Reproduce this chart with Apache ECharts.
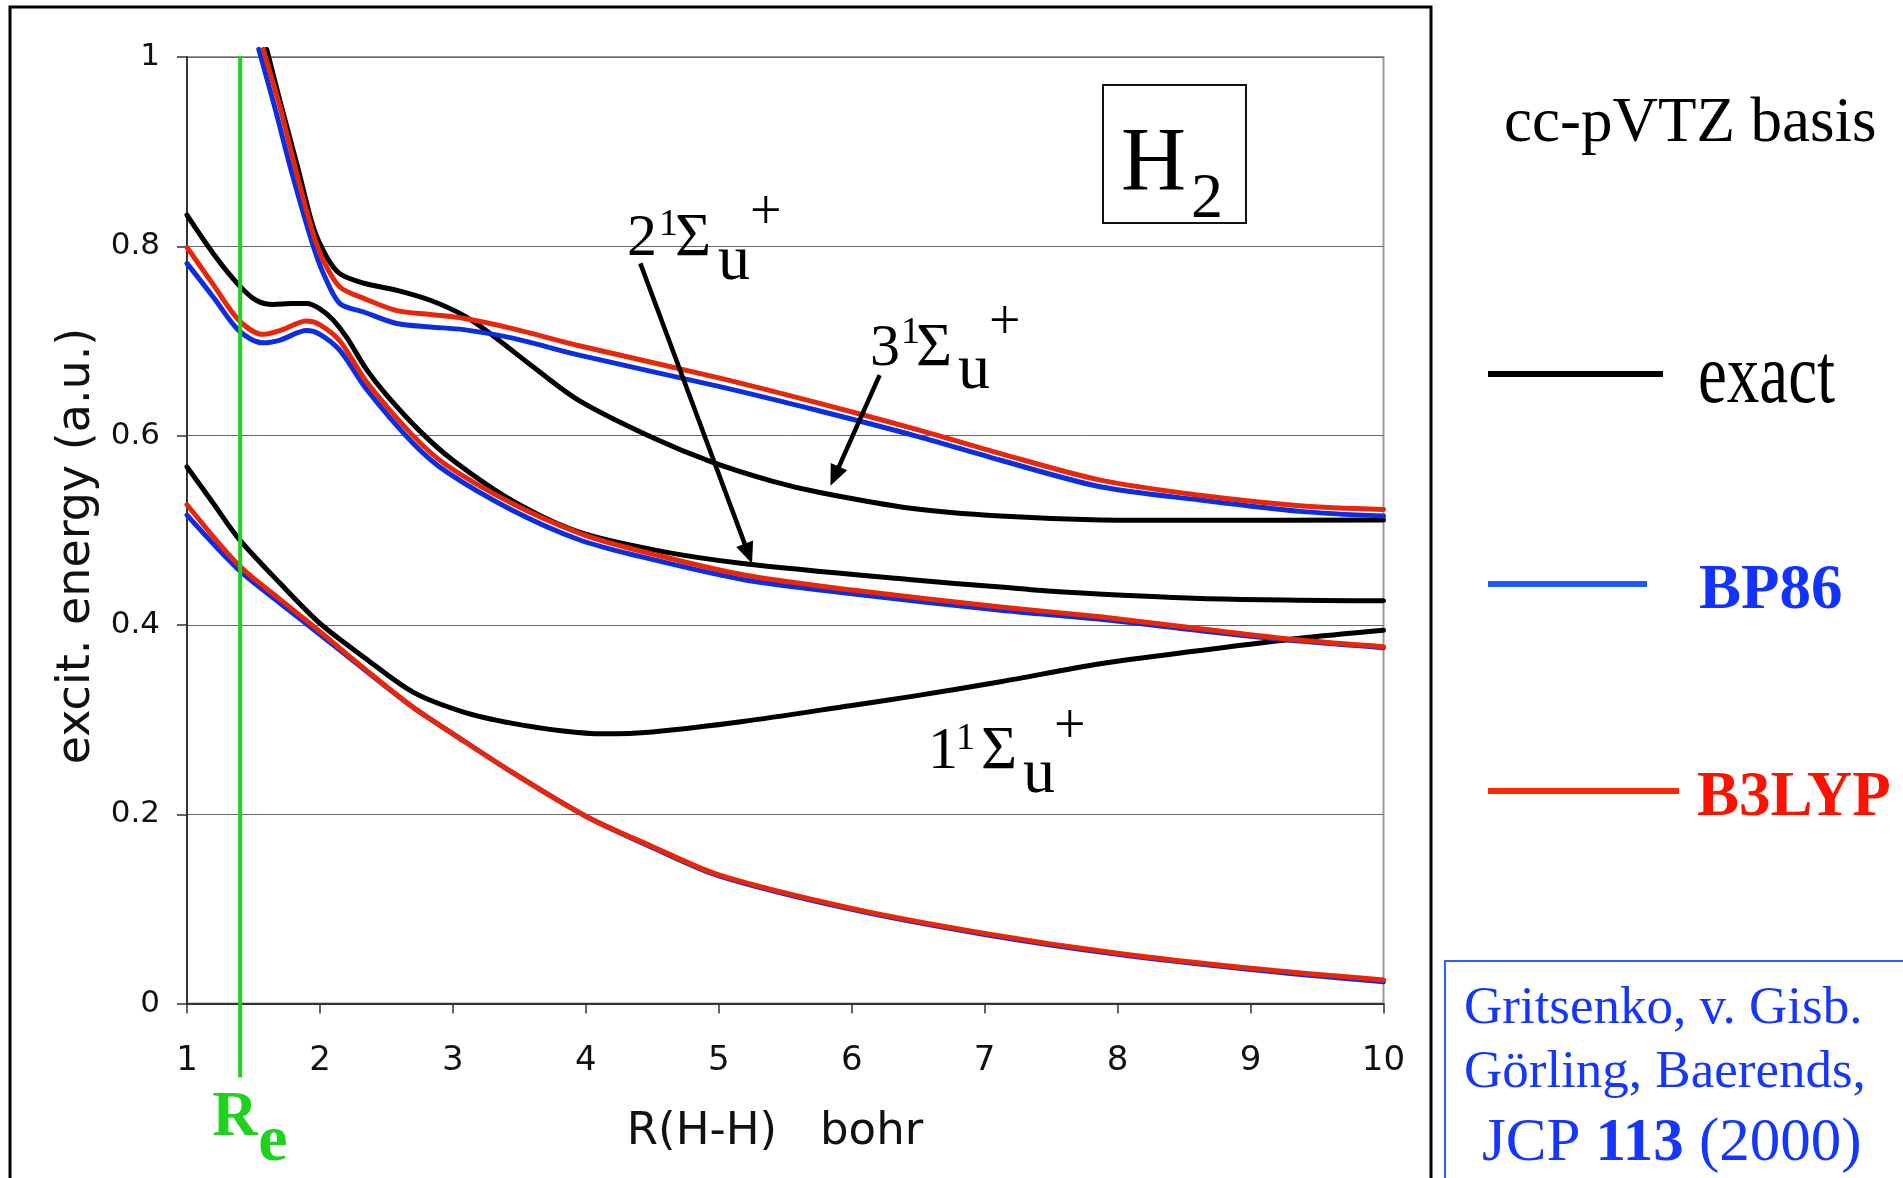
<!DOCTYPE html>
<html>
<head>
<meta charset="utf-8">
<title>H2 excitation energies</title>
<script src="https://cdn.jsdelivr.net/npm/echarts@6/dist/echarts.min.js"></script>
<style>
  html, body { margin: 0; padding: 0; background: #fff; }
  #chart { width: 1903px; height: 1178px; }
</style>
</head>
<body>
<div id="chart"></div>
<script>
// Axis tick labels
const xTickLabels = ['1', '2', '3', '4', '5', '6', '7', '8', '9', '10'];
const yTickLabels = ['0', '0.2', '0.4', '0.6', '0.8', '1'];

// Excitation energies (a.u.) vs R(H-H) (bohr), [R, E] pairs
// 1 1Σu+
const exact1 = [[1, 0.567], [1.2, 0.528], [1.39, 0.491], [1.7, 0.444], [2.0, 0.4016], [2.33, 0.366], [2.7, 0.329], [3.08, 0.308], [3.45, 0.296], [3.83, 0.288], [4.13, 0.285], [4.5, 0.287], [5.18, 0.298], [6.0, 0.315], [6.43, 0.324], [7.12, 0.340], [7.87, 0.359], [8.62, 0.373], [9.37, 0.386], [10, 0.3945]];
const bp86_1 = [[1, 0.516], [1.39, 0.458], [1.7, 0.423], [2.0, 0.390], [2.35, 0.351], [2.7, 0.313], [3.0, 0.285], [3.45, 0.244], [4.0, 0.198], [4.5, 0.165], [5, 0.135], [6, 0.0995], [7, 0.073], [8, 0.052], [9, 0.036], [10, 0.023]];
const b3lyp_1 = [[1, 0.527], [1.39, 0.463], [1.7, 0.427], [2.0, 0.393], [2.35, 0.352], [2.7, 0.313], [3.0, 0.285], [3.45, 0.244], [4.0, 0.198], [4.5, 0.166], [5, 0.136], [6, 0.1006], [7, 0.0742], [8, 0.0531], [9, 0.0373], [10, 0.0249]];
// 2 1Σu+
const exact2 = [[1, 0.833], [1.2, 0.792], [1.39, 0.759], [1.52, 0.743], [1.65, 0.7385], [1.78, 0.7395], [1.9, 0.7395], [2.0, 0.734], [2.1, 0.722], [2.2, 0.704], [2.35, 0.670], [2.5, 0.643], [2.75, 0.605], [3.0, 0.574], [3.45, 0.531], [3.95, 0.498], [4.56, 0.478], [5.18, 0.465], [6.43, 0.448], [7.12, 0.440], [7.56, 0.435], [8.62, 0.428], [10, 0.4255]];
const bp86_2 = [[1, 0.782], [1.2, 0.746], [1.39, 0.711], [1.57, 0.698], [1.7, 0.701], [1.9, 0.711], [2.0, 0.707], [2.15, 0.690], [2.35, 0.649], [2.7, 0.592], [2.95, 0.562], [3.45, 0.521], [3.95, 0.490], [4.33, 0.475], [5.18, 0.448], [6, 0.433], [7.12, 0.4156], [7.87, 0.406], [8.62, 0.394], [9.37, 0.383], [10, 0.376]];
const b3lyp_2 = [[1, 0.799], [1.2, 0.759], [1.39, 0.722], [1.57, 0.707], [1.7, 0.711], [1.9, 0.721], [2.0, 0.717], [2.15, 0.700], [2.35, 0.657], [2.7, 0.600], [2.95, 0.569], [3.45, 0.528], [3.95, 0.497], [4.33, 0.481], [5.18, 0.453], [6, 0.437], [7.12, 0.419], [7.87, 0.4086], [8.62, 0.396], [9.37, 0.384], [10, 0.377]];
// 3 1Σu+
const exact3 = [[1.6, 1.008], [1.7, 0.953], [1.83, 0.885], [1.95, 0.82], [2.05, 0.789], [2.15, 0.771], [2.33, 0.761], [2.58, 0.7535], [2.83, 0.743], [3.08, 0.727], [3.28, 0.708], [3.6, 0.673], [3.95, 0.637], [4.5, 0.598], [4.95, 0.572], [5.4, 0.552], [5.76, 0.540], [6.46, 0.523], [7.12, 0.515], [7.87, 0.511], [8.62, 0.5105], [10, 0.511]];
const bp86_3 = [[1.54, 1.008], [1.66, 0.947], [1.79, 0.877], [1.95, 0.800], [2.03, 0.770], [2.15, 0.7395], [2.33, 0.7306], [2.58, 0.7184], [2.83, 0.7148], [3.08, 0.712], [3.45, 0.703], [3.95, 0.685], [5, 0.652], [5.76, 0.626], [6.5, 0.599], [7.12, 0.574], [7.87, 0.546], [8.62, 0.532], [9.37, 0.520], [10, 0.515]];
const b3lyp_3 = [[1.574, 1.008], [1.70, 0.947], [1.825, 0.877], [1.95, 0.813], [2.026, 0.785], [2.15, 0.757], [2.33, 0.745], [2.58, 0.732], [2.83, 0.728], [3.08, 0.724], [3.45, 0.713], [3.95, 0.695], [5, 0.661], [5.76, 0.634], [6.5, 0.606], [7.12, 0.581], [7.87, 0.553], [8.62, 0.537], [9.37, 0.526], [10, 0.522]];

// Equilibrium bond length (bohr)
const reBohr = 1.4;

// State-label arrows: [tail, tip] in (R, E)
const arrow2 = [[4.41, 0.782], [5.25, 0.465]];
const arrow3 = [[6.21, 0.664], [5.84, 0.547]];

// State-label anchors (R, E): left edge / baseline of the leading digit
const label1Anchor = [6.574, 0.2489];
const label2Anchor = [4.310, 0.7908];
const label3Anchor = [6.138, 0.6745];

const COL_EXACT = '#000000';
const COL_BP = '#0b2fe0';
const COL_B3 = '#e8260a';
const SERIF = '"Liberation Serif", "Times New Roman", serif';
const SANS = '"DejaVu Sans", Verdana, sans-serif';

const chart = echarts.init(document.getElementById('chart'), null, { renderer: 'canvas' });

const curves = [
  { name: 'exact 1', data: exact1, color: COL_EXACT },
  { name: 'exact 2', data: exact2, color: COL_EXACT },
  { name: 'exact 3', data: exact3, color: COL_EXACT },
  { name: 'BP86 1', data: bp86_1, color: COL_BP },
  { name: 'BP86 2', data: bp86_2, color: COL_BP },
  { name: 'BP86 3', data: bp86_3, color: COL_BP },
  { name: 'B3LYP 1', data: b3lyp_1, color: COL_B3 },
  { name: 'B3LYP 2', data: b3lyp_2, color: COL_B3 },
  { name: 'B3LYP 3', data: b3lyp_3, color: COL_B3 }
];

const PLOT = { left: 187, top: 57, right: 1383.5, bottom: 1003.6 };

chart.setOption({
  animation: false,
  backgroundColor: '#ffffff',
  legend: { show: false },
  tooltip: { show: false },
  grid: {
    left: PLOT.left, top: PLOT.top,
    width: PLOT.right - PLOT.left, height: PLOT.bottom - PLOT.top,
    show: true, borderColor: '#9a9a9a', borderWidth: 2,
    outerBoundsMode: 'none', containLabel: false
  },
  xAxis: {
    type: 'value', min: 1, max: 10, interval: 1,
    axisLine: { show: true, onZero: false, lineStyle: { color: '#333', width: 2 } },
    axisTick: { show: true, length: 10, inside: false, lineStyle: { color: '#333', width: 1.5 } },
    splitLine: { show: false },
    axisLabel: {
      show: true, margin: 41, color: '#111', fontSize: 34, fontFamily: SANS,
      showMinLabel: true, showMaxLabel: true, hideOverlap: false,
      formatter: v => xTickLabels[Math.round(v) - 1]
    }
  },
  yAxis: {
    type: 'value', min: 0, max: 1, interval: 0.2,
    axisLine: { show: true, onZero: false, lineStyle: { color: '#333', width: 2 } },
    axisTick: { show: true, length: 10, inside: false, lineStyle: { color: '#333', width: 1.5 } },
    splitLine: { show: true, lineStyle: { color: '#666', width: 1 } },
    axisLabel: {
      show: true, margin: 27, color: '#111', fontSize: 31, fontFamily: SANS,
      showMinLabel: true, showMaxLabel: true, hideOverlap: false,
      formatter: v => yTickLabels[Math.round(v / 0.2)]
    }
  },
  series: curves.map((c, i) => ({
    name: c.name,
    type: 'line',
    data: c.data,
    smooth: 0.3,
    symbol: 'none',
    showSymbol: false,
    clip: false,
    silent: true,
    z: 2 + i,
    lineStyle: { color: c.color, width: 5, cap: 'round', join: 'round' }
  }))
});

// ---- annotation helpers -------------------------------------------------
function px(p) { return chart.convertToPixel({ gridIndex: 0 }, p); }

// text placed by its baseline (x = left edge unless align given)
function txt(x, base, str, size, o) {
  o = o || {};
  const fam = o.family || SERIF;
  const k = fam === SANS ? 0.30 : 0.26;
  const style = {
    text: str, x: 0, y: -k * size,
    fill: o.color || '#000',
    fontSize: size, fontFamily: fam, fontWeight: o.weight || 'normal',
    align: o.align || 'left', verticalAlign: 'middle'
  };
  if (o.rich) style.rich = o.rich;
  return {
    type: 'text', x: x, y: base,
    rotation: o.rotation || 0, scaleX: o.sx || 1, scaleY: o.sy || 1,
    z: 100, silent: true, style: style
  };
}

function arrow(tailData, tipData) {
  const a = px(tailData), b = px(tipData);
  const dx = b[0] - a[0], dy = b[1] - a[1];
  const len = Math.hypot(dx, dy), ux = dx / len, uy = dy / len;
  const headLen = 21, headW = 9;
  const bx = b[0] - ux * headLen, by = b[1] - uy * headLen;
  return [
    { type: 'line', z: 90, silent: true,
      shape: { x1: a[0], y1: a[1], x2: bx + ux * 2, y2: by + uy * 2 },
      style: { stroke: '#000', lineWidth: 4.5 } },
    { type: 'polygon', z: 90, silent: true,
      shape: { points: [[b[0], b[1]], [bx - uy * headW, by + ux * headW], [bx + uy * headW, by - ux * headW]] },
      style: { fill: '#000' } }
  ];
}

// n¹Σu⁺ label built from pieces: [text, size, dx, dyBaseline]
function stateLabel(anchor, digit, pieces) {
  const p = px(anchor);
  const out = [txt(p[0], p[1], digit, 60)];
  pieces.forEach(q => out.push(txt(p[0] + q[2], p[1] + q[3], q[0], q[1])));
  return out;
}

const reTop = px([reBohr, 1]);
const axisY = px([1, 0])[1];

const graphics = [
  // outer frame
  { type: 'rect', z: 1, silent: true, shape: { x: 10, y: 7, width: 1421, height: 1200 },
    style: { fill: 'none', stroke: '#000', lineWidth: 3 } },
  // equilibrium distance marker
  { type: 'line', z: 80, silent: true,
    shape: { x1: reTop[0], y1: reTop[1] - 1, x2: reTop[0], y2: axisY + 74 },
    style: { stroke: '#1ed21e', lineWidth: 4 } },
  txt(reTop[0] - 28, 1135, 'R', 63, { weight: 'bold', color: '#1ed21e' }),
  txt(reTop[0] + 18, 1160, 'e', 66, { weight: 'bold', color: '#1ed21e' }),

  // axis titles
  txt(91, 546, 'excit. energy (a.u.)', 46, { family: SANS, align: 'center', rotation: Math.PI / 2, color: '#111' }),
  txt(775, 1146, 'R(H-H)   bohr', 45, { family: SANS, align: 'center', color: '#111' }),

  // molecule box
  { type: 'rect', z: 95, silent: true, shape: { x: 1103, y: 85, width: 143, height: 138 },
    style: { fill: '#fff', stroke: '#111', lineWidth: 2 } },
  txt(1121, 190, 'H', 90),
  txt(1191, 217, '2', 64),

  // legend
  txt(1504, 141, 'cc-pVTZ basis', 63),
  { type: 'line', z: 90, silent: true, shape: { x1: 1488, y1: 374, x2: 1663, y2: 374 },
    style: { stroke: '#000', lineWidth: 6 } },
  txt(1698, 402, 'exact', 65, { sy: 1.3 }),
  { type: 'line', z: 90, silent: true, shape: { x1: 1488, y1: 584, x2: 1647, y2: 584 },
    style: { stroke: '#1e5aff', lineWidth: 6 } },
  txt(1699, 608, 'BP86', 63, { weight: 'bold', color: '#1233ff' }),
  { type: 'line', z: 90, silent: true, shape: { x1: 1488, y1: 791, x2: 1679, y2: 791 },
    style: { stroke: '#ff2a00', lineWidth: 6 } },
  txt(1697, 815, 'B3LYP', 63, { weight: 'bold', color: '#ff1100' }),

  // reference box
  { type: 'rect', z: 90, silent: true, shape: { x: 1445, y: 961, width: 500, height: 300 },
    style: { fill: 'none', stroke: '#2f5fff', lineWidth: 2 } },
  txt(1464, 1023, 'Gritsenko, v. Gisb.', 53, { color: '#1536ff' }),
  txt(1464, 1087, 'Görling, Baerends,', 53, { color: '#1536ff' }),
  txt(1482, 1160, 'JCP {b|113} (2000)', 61, {
    color: '#1536ff',
    rich: { b: { fontWeight: 'bold', fontSize: 61, fontFamily: SERIF, fill: '#1536ff' } }
  })
];

// state labels
graphics.push(...stateLabel(label2Anchor, '2', [['1', 38, 32, -20], ['Σ', 62, 48, 0], ['u', 64, 91, 24], ['+', 56, 123, -26]]));
graphics.push(...stateLabel(label3Anchor, '3', [['1', 38, 31, -22], ['Σ', 62, 46, 0], ['u', 64, 88, 23], ['+', 56, 119, -26]]));
graphics.push(...stateLabel(label1Anchor, '1', [['1', 38, 28, -19], ['Σ', 62, 53, 0], ['u', 64, 95, 24], ['+', 56, 126, -25]]));
graphics.push(...arrow(arrow2[0], arrow2[1]));
graphics.push(...arrow(arrow3[0], arrow3[1]));

chart.setOption({ graphic: graphics });
</script>
</body>
</html>
